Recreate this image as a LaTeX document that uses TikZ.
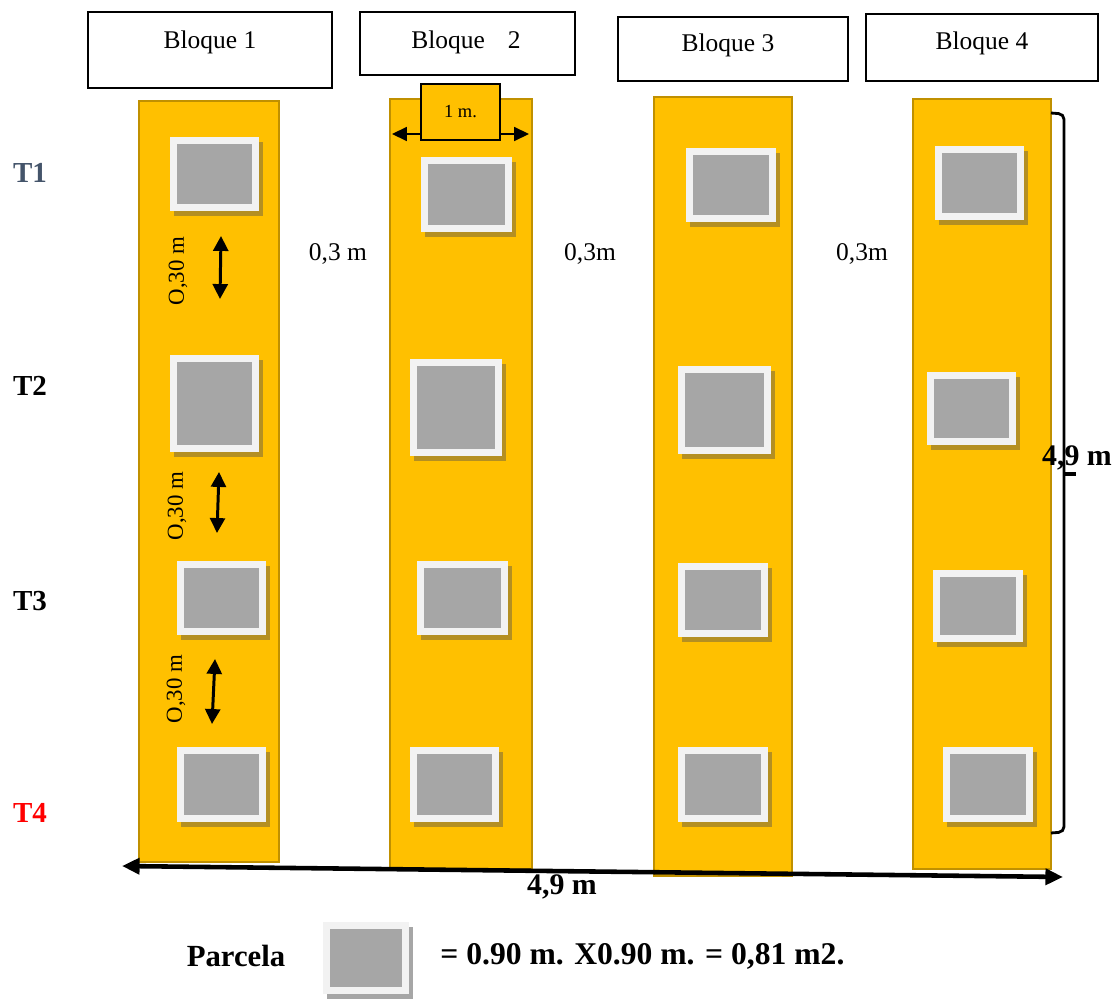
\documentclass[tikz,border=0pt]{standalone}
\usepackage{fontspec}
\setmainfont{Liberation Serif}
\usetikzlibrary{arrows.meta}
\definecolor{strip}{HTML}{FFC000}
\definecolor{stripedge}{HTML}{C09000}
\definecolor{frame}{HTML}{F2F2F2}
\definecolor{plotgrey}{HTML}{A6A6A6}
\definecolor{shadowo}{HTML}{B48F22}
\definecolor{tone}{HTML}{44546A}
\tikzset{
  blockbox/.style={draw=black, line width=0.6pt, fill=white},
  stripbox/.style={fill=strip, draw=stripedge, line width=0.8pt},
  lbl/.style={font=\fontsize{14.5}{16}\selectfont, inner sep=0pt},
  tlbl/.style={font=\fontsize{16.5}{18}\selectfont\bfseries, inner sep=0pt},
  dimarrow/.style={line width=1.7pt, {Triangle[length=8.5pt,width=8.5pt]}-{Triangle[length=8.5pt,width=8.5pt]}},
}
\newcommand{\parc}[5][shadowo]{%
  \fill[#1] ({#2+4},{#3+5}) rectangle ({#4+4},{#5+5});
  \fill[frame] (#2,#3) rectangle (#4,#5);
  \fill[plotgrey] ({#2+7},{#3+7}) rectangle ({#4-7},{#5-7});
}
\begin{document}
\begin{tikzpicture}[x=0.02cm,y=-0.02cm]
\useasboundingbox (0,0) rectangle (1117,1000);
% header blocks
\draw[blockbox] (88,12) rectangle (332,88);
\node[lbl] (b1) at (210,42) {Bloque 1};
\draw[blockbox] (360,12) rectangle (575,75);
\node[lbl] (b2) at (466,42) {Bloque\hspace{0.9em}2};
\draw[blockbox] (618,17) rectangle (848,81);
\node[lbl] (b3) at (728,45) {Bloque 3};
\draw[blockbox] (866,14) rectangle (1098,81);
\node[lbl] (b4) at (982,43) {Bloque 4};
% strips
\draw[stripbox] (139,101) rectangle (279,862);
\draw[stripbox] (390,99) rectangle (532,869);
\draw[stripbox] (654,97) rectangle (792,876);
\draw[stripbox] (913,99) rectangle (1051,869);
% 1 m dimension
\coordinate (ma) at (392,134);
\coordinate (mb) at (529,134);
\draw[line width=0.9pt, {Triangle[length=8.5pt,width=8pt]}-{Triangle[length=8.5pt,width=8pt]}] (ma) -- (mb);
\node[draw=black, line width=0.6pt, fill=strip, minimum width=79*0.02cm, minimum height=56*0.02cm, inner sep=0pt, font=\fontsize{10.5}{12}\selectfont] (onem) at (460.5,112) {1 m.};
% parcels strip 1
\parc{170}{137}{259}{211}
\parc{170}{355}{259}{452}
\parc{177}{561}{266}{635}
\parc{177}{747}{266}{822}
% strip 2
\parc{421}{157}{512}{232}
\parc{410}{359}{502}{456}
\parc{417}{561}{508}{635}
\parc{410}{747}{499}{822}
% strip 3
\parc{686}{148}{776}{222}
\parc{678}{366}{771}{454}
\parc{678}{563}{768}{637}
\parc{678}{747}{768}{822}
% strip 4
\parc{935}{146}{1024}{220}
\parc{927}{372}{1016}{445}
\parc{933}{570}{1023}{642}
\parc{943}{747}{1033}{822}
% vertical 0,30 dims
\coordinate (va1) at (221,236); \coordinate (vb1) at (220,299);
\coordinate (va2) at (219,472); \coordinate (vb2) at (217,533);
\coordinate (va3) at (215,659); \coordinate (vb3) at (212,724);
\draw[dimarrow] (va1) -- (vb1);
\draw[dimarrow] (va2) -- (vb2);
\draw[dimarrow] (va3) -- (vb3);
\node[font=\fontsize{13}{14}\selectfont, inner sep=0pt, rotate=90] (d1) at (178,271) {O,30 m};
\node[font=\fontsize{13}{14}\selectfont, inner sep=0pt, rotate=90] (d2) at (177,506) {O,30 m};
\node[font=\fontsize{13}{14}\selectfont, inner sep=0pt, rotate=90] (d3) at (176,689) {O,30 m};
% gaps
\node[lbl] (g1) at (338,254) {0,3 m};
\node[lbl] (g2) at (590,254) {0,3m};
\node[lbl] (g3) at (862,254) {0,3m};
% T labels
\node[tlbl, text=tone] (t1) at (30,173) {T1};
\node[tlbl] (t2) at (30,386) {T2};
\node[tlbl] (t3) at (30,601) {T3};
\node[tlbl, text=red] (t4) at (30,813) {T4};
% right bracket
\coordinate (ra) at (1051,113);
\coordinate (rb) at (1051,833);
\draw[line width=1.6pt, rounded corners=3pt] (ra) -- (1064,114) -- (1064,832) -- (rb);
\draw[line width=2pt] (1064,474) -- (1076,474);
\node[font=\fontsize{17}{18}\selectfont\bfseries, inner sep=0pt] (rl) at (1077,458) {4,9 m};
% bottom dimension
\coordinate (ha) at (122,866);
\coordinate (hb) at (1063,877);
\draw[line width=2.6pt, {Triangle[length=10pt,width=9pt]}-{Triangle[length=10pt,width=9pt]}] (ha) -- (hb);
\node[font=\fontsize{17}{18}\selectfont\bfseries, inner sep=0pt] (bl) at (562,887) {4,9 m};
% legend
\node[font=\fontsize{17.5}{19}\selectfont\bfseries, inner sep=0pt] (parc) at (236,956) {Parcela};
\parc[plotgrey]{323}{922}{409}{994}
\node[font=\fontsize{18}{20}\selectfont\bfseries, inner sep=0pt, anchor=west] (eq) at (440,956) {= 0.90 m. X0.90 m. = 0,81 m2.};
\end{tikzpicture}
\end{document}
